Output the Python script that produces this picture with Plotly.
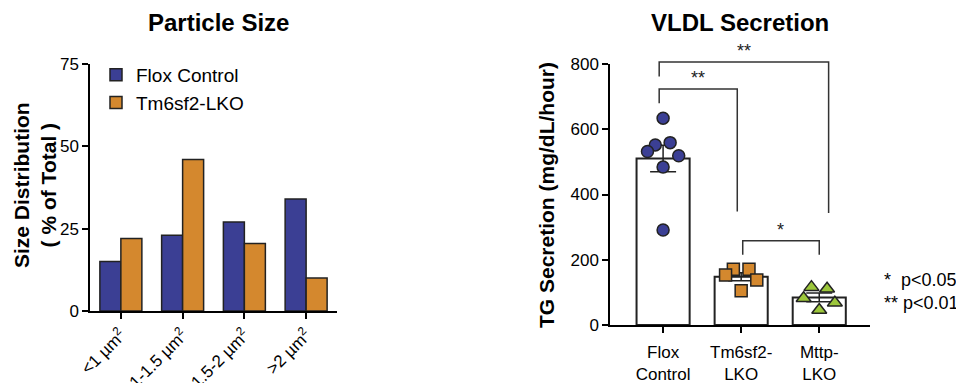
import numpy as np
import plotly.graph_objects as go

# ---------------- data ----------------
size_categories = ["<1 µm<sup>2</sup>", "1-1.5 µm<sup>2</sup>", "1.5-2 µm<sup>2</sup>", ">2 µm<sup>2</sup>"]
flox_size = [15, 23, 27, 34]
tm6_size = [22, 46, 20.5, 10]

vldl_groups = ["Flox<br>Control", "Tm6sf2-<br>LKO", "Mttp-<br>LKO"]
flox_tg = [634, 552, 559, 532, 519, 484, 291]
tm6_tg = [171, 171, 153, 138, 105]
mttp_tg = [116, 111, 82, 68, 46]
# horizontal jitter of individual points (category units)
flox_jit = [0, -0.1, 0.09, -0.2, 0.2, 0, 0]
tm6_jit = [-0.1, 0.1, -0.2, 0.2, 0]
mttp_jit = [-0.1, 0.1, -0.2, 0.2, 0]

W, H = 964, 383
OFF = 8  # page body margin of the html page
FONT = "Arial, Liberation Sans, sans-serif"
BLUE = "#3b3f94"
ORANGE = "#d4882e"
GREEN = "#9cc63b"
EDGE = "#222222"

def px(x):
    return (x - OFF) / W

def py(y):
    return 1 - (y - OFF) / H

# subplot geometry (screen pixels)
L_X0, L_X1, L_Y0, L_Y1 = 90, 337, 311, 64
R_X0, R_X1, R_Y0, R_Y1 = 610, 870, 325, 64
L_RANGE = [-0.5, 3.5]
R_XRANGE = [-0.68, 2.65]
R_YRANGE = [0, 800]

fig = go.Figure()

# ---------------- left chart ----------------
xi = list(range(len(size_categories)))
fig.add_trace(go.Bar(x=xi, y=flox_size, name="Flox Control", marker=dict(color=BLUE, line=dict(color=EDGE, width=1.5)),
                     xaxis="x", yaxis="y"))
fig.add_trace(go.Bar(x=xi, y=tm6_size, name="Tm6sf2-LKO", marker=dict(color=ORANGE, line=dict(color=EDGE, width=1.5)),
                     xaxis="x", yaxis="y"))

# ---------------- right chart ----------------
groups = [flox_tg, tm6_tg, mttp_tg]
means = [float(np.mean(g)) for g in groups]
sems = [float(np.std(g, ddof=1) / np.sqrt(len(g))) for g in groups]
gx = list(range(len(vldl_groups)))
fig.add_trace(go.Bar(x=gx, y=means, width=0.68, showlegend=False,
                     marker=dict(color="white", line=dict(color=EDGE, width=2)),
                     error_y=dict(type="data", array=sems, color=EDGE, thickness=1.5, width=13),
                     xaxis="x2", yaxis="y2"))

sym = ["circle", "square", "triangle-up"]
cols = [BLUE, ORANGE, GREEN]
jits = [flox_jit, tm6_jit, mttp_jit]
for i, (g, j) in enumerate(zip(groups, jits)):
    fig.add_trace(go.Scatter(x=[i + d for d in j], y=g, mode="markers", showlegend=False,
                             marker=dict(symbol=sym[i], color=cols[i], size=12 if i != 2 else 13,
                                         line=dict(color=EDGE, width=1.5)),
                             xaxis="x2", yaxis="y2", cliponaxis=False))

# significance brackets (paper coords computed from data coords)
def rx(c):
    return px(R_X0 + (c - R_XRANGE[0]) / (R_XRANGE[1] - R_XRANGE[0]) * (R_X1 - R_X0))

def ry(v):
    return py(R_Y0 - (v - R_YRANGE[0]) / (R_YRANGE[1] - R_YRANGE[0]) * (R_Y0 - R_Y1))

brackets = [
    # x0, x1, top, left-bottom, right-bottom, label
    (-0.05, 2.12, 806, 762, 343, "**"),
    (-0.05, 0.95, 723, 680, 348, "**"),
    (1.02, 2.0, 258, 215, 215, "*"),
]
shapes = []
annotations = []
for x0, x1, top, lb, rb, lab in brackets:
    path = f"M {rx(x0)},{ry(lb)} L {rx(x0)},{ry(top)} L {rx(x1)},{ry(top)} L {rx(x1)},{ry(rb)}"
    shapes.append(dict(type="path", path=path, xref="paper", yref="paper",
                       line=dict(color="#333333", width=1.5)))
    annotations.append(dict(x=(rx(x0) + rx(x1)) / 2, y=ry(top), xref="paper", yref="paper",
                            text=lab, showarrow=False, xanchor="center", yanchor="bottom", yshift=-1,
                            font=dict(family=FONT, size=18, color="#222")))

# titles
annotations.append(dict(x=px(218), y=py(23), xref="paper", yref="paper", text="<b>Particle Size</b>",
                        showarrow=False, xanchor="center", yanchor="middle",
                        font=dict(family=FONT, size=24, color="black")))
annotations.append(dict(x=px(740), y=py(23), xref="paper", yref="paper", text="<b>VLDL Secretion</b>",
                        showarrow=False, xanchor="center", yanchor="middle",
                        font=dict(family=FONT, size=24, color="black")))
# y-axis titles
annotations.append(dict(x=px(35), y=py(185), xref="paper", yref="paper",
                        text="<b>Size Distribution<br>( % of Total )</b>", textangle=-90,
                        showarrow=False, xanchor="center", yanchor="middle",
                        font=dict(family=FONT, size=21, color="black")))
annotations.append(dict(x=px(546), y=py(195), xref="paper", yref="paper",
                        text="<b>TG Secretion (mg/dL/hour)</b>", textangle=-90,
                        showarrow=False, xanchor="center", yanchor="middle",
                        font=dict(family=FONT, size=21, color="black")))
# p-value key
annotations.append(dict(x=px(882), y=py(291), xref="paper", yref="paper", xanchor="left", yanchor="middle",
                        text="*  p<0.05<br>** p<0.01", align="left",
                        showarrow=False, font=dict(family=FONT, size=18, color="black")))
# cut-off glyph at the top-right edge of the source image
annotations.append(dict(x=px(959), y=py(7), xref="paper", yref="paper", xanchor="left", yanchor="middle",
                        text="<b>S</b>", showarrow=False, font=dict(family=FONT, size=14, color="black")))

axis_common = dict(showline=True, linecolor="black", linewidth=1.5, ticks="outside", ticklen=6,
                   tickwidth=1.5, tickcolor="black", showgrid=False, zeroline=False, automargin=False,
                   tickfont=dict(family=FONT, size=17, color="black"))

fig.update_layout(
    width=W, height=H, margin=dict(l=0, r=0, t=0, b=0, autoexpand=False),
    paper_bgcolor="white", plot_bgcolor="white",
    barmode="group", bargap=0.32, bargroupgap=0,
    font=dict(family=FONT, color="black"),
    xaxis=dict(domain=[px(L_X0), px(L_X1)], range=L_RANGE, tickvals=xi, ticktext=size_categories,
               tickangle=-45, anchor="y", **axis_common),
    yaxis=dict(domain=[py(L_Y0), py(L_Y1)], range=[0, 75], tickvals=[0, 25, 50, 75], anchor="x", **axis_common),
    xaxis2=dict(domain=[px(R_X0), px(R_X1)], range=R_XRANGE, tickvals=gx, ticktext=vldl_groups,
                anchor="y2", ticklabelstandoff=5, **axis_common),
    yaxis2=dict(domain=[py(R_Y0), py(R_Y1)], range=R_YRANGE, tickvals=[0, 200, 400, 600, 800],
                anchor="x2", **axis_common),
    legend=dict(x=px(96), y=py(56), xanchor="left", yanchor="top", bgcolor="rgba(0,0,0,0)",
                font=dict(family=FONT, size=19, color="black"), itemwidth=30, tracegroupgap=0),
    shapes=shapes, annotations=annotations,
)

fig.write_html("out.html")
